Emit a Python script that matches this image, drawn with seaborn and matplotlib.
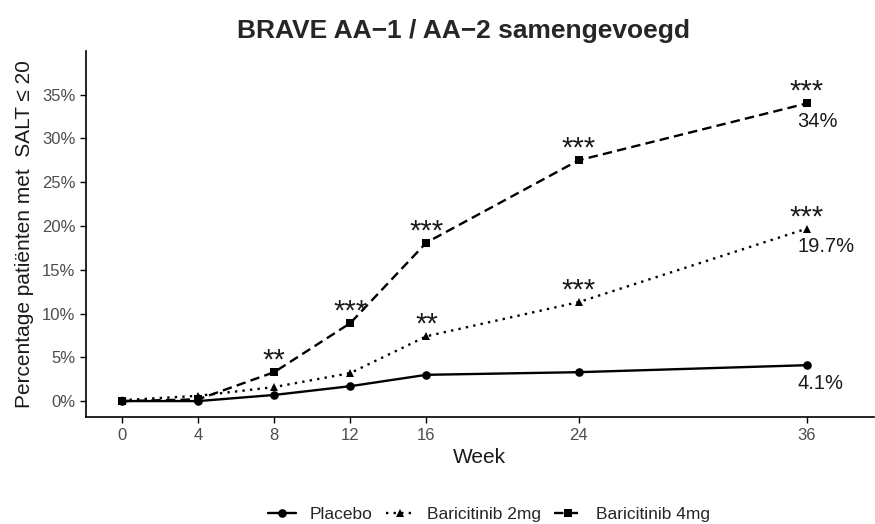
import pandas as pd
import numpy as np
import seaborn as sns
import matplotlib
matplotlib.use("Agg")
import matplotlib.pyplot as plt

weeks = [0, 4, 8, 12, 16, 24, 36]
placebo = [0.0, 0.0, 0.7, 1.7, 3.0, 3.3, 4.1]
bari_2mg = [0.1, 0.6, 1.6, 3.2, 7.4, 11.3, 19.7]
bari_4mg = [0.0, 0.2, 3.3, 8.9, 18.1, 27.5, 34.0]
groups = ["Placebo", "Baricitinib 2mg", "Baricitinib 4mg"]

stars_2mg = ["", "", "", "", "**", "***", "***"]
stars_4mg = ["", "", "**", "***", "***", "***", "***"]
end_labels = ["4.1%", "19.7%", "34%"]

df = pd.DataFrame({
    "Week": weeks * 3,
    "pct": placebo + bari_2mg + bari_4mg,
    "groep": [g for g in groups for _ in weeks],
})

sns.set_theme(style="ticks")
plt.rcParams['font.family'] = ['Liberation Sans', 'DejaVu Sans']

fig = plt.figure(figsize=(8.75, 5.24), dpi=100)
ax = fig.add_axes([0.0983, 0.204, 0.9, 0.699])

sns.lineplot(data=df, x="Week", y="pct", style="groep", style_order=groups,
             markers={"Placebo": "o", "Baricitinib 2mg": "^", "Baricitinib 4mg": "s"},
             dashes={"Placebo": "", "Baricitinib 2mg": (1, 2.2), "Baricitinib 4mg": (4, 2.2)},
             color="black", linewidth=1.7, markersize=6.2, markeredgewidth=0, ax=ax)

# sterretjes boven de punten
for x, y, s in zip(weeks, bari_2mg, stars_2mg):
    if s:
        ax.text(x, y + 1.3, s, ha="center", va="center", fontsize=21, color="#1a1a1a")
for x, y, s in zip(weeks, bari_4mg, stars_4mg):
    if s:
        ax.text(x, y + 1.3, s, ha="center", va="center", fontsize=21, color="#1a1a1a")

for vals, lab in zip([placebo, bari_2mg, bari_4mg], end_labels):
    ax.text(35.5, vals[-1] - 1.0, lab, ha="left", va="top", fontsize=14.5, color="#1a1a1a")

ax.set_xlim(-1.89, 39.5)
ax.set_ylim(-1.83, 40)
ax.set_xticks(weeks)
ax.set_yticks(range(0, 36, 5))
ax.set_yticklabels([f"{v}%" for v in range(0, 36, 5)])
ax.tick_params(axis="both", labelcolor="#4d4d4d", labelsize=12, length=4, width=1, color="black")
sns.despine(ax=ax)
for sp in ["left", "bottom"]:
    ax.spines[sp].set_linewidth(1.2)
    ax.spines[sp].set_color("black")

ax.set_xlabel("Week", fontsize=15, color="#1a1a1a", labelpad=4)
ax.set_ylabel("Percentage patiënten met  SALT \u2264 20", fontsize=15, color="#1a1a1a", labelpad=6)
ax.set_title("BRAVE AA\u22121 / AA\u22122 samengevoegd", fontsize=19, fontweight="bold", pad=9,
             x=(463 - 86) / (873 - 86))

sns.move_legend(ax, "center", bbox_to_anchor=(0.559, 0.018), bbox_transform=fig.transFigure,
                ncol=3, frameon=False, title=None, fontsize=12.5, handlelength=1.6,
                handletextpad=0.8, columnspacing=0.75)

fig.savefig("out.png", dpi=100)
